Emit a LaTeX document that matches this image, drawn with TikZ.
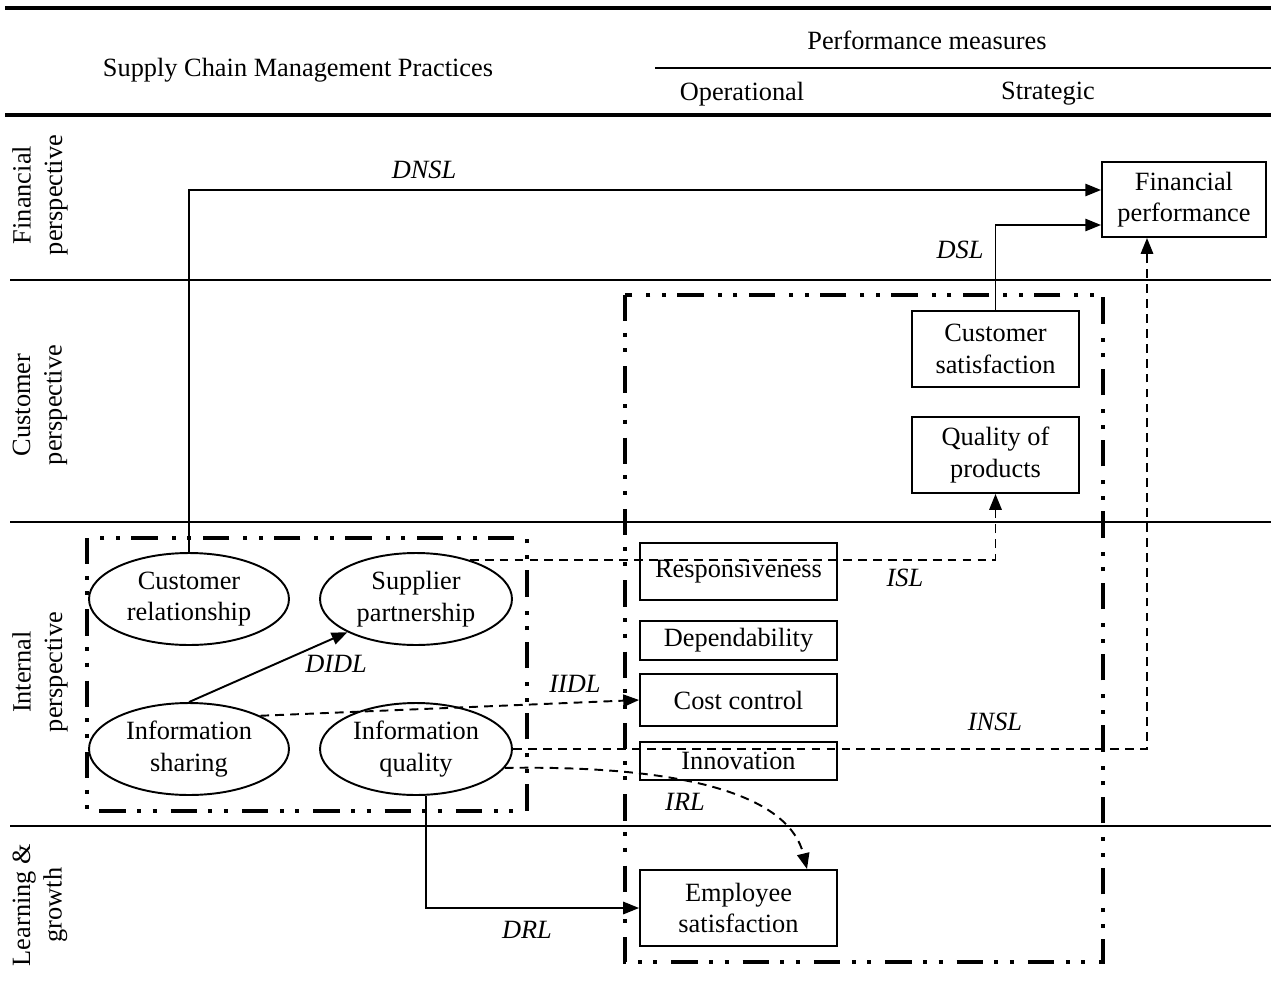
\documentclass[tikz,border=0pt]{standalone}
\usepackage{fontspec}
\setmainfont{Liberation Serif}
\usetikzlibrary{shapes.geometric,arrows.meta,calc}
\begin{document}
\begin{tikzpicture}[x=0.02cm,y=-0.02cm,
  font=\fontsize{15}{18}\selectfont,
  box/.style={draw,line width=1.1pt,align=center,inner sep=0pt,minimum width=3.94cm},
  ell/.style={draw,ellipse,line width=1.1pt,align=center,inner sep=0pt,minimum width=3.84cm,minimum height=1.84cm},
  conn/.style={line width=1.1pt},
  arr/.style={conn,-{Triangle[length=9pt,width=7pt]}},
  dsh/.style={dash pattern=on 5pt off 3.5pt},
  dd/.style={line width=2.3pt,dash pattern=on 15pt off 6.5pt on 2.3pt off 6.5pt on 2.3pt off 8pt},
  rule/.style={line width=1.1pt},
  lbl/.style={font=\fontsize{15}{18}\selectfont\itshape},
  side/.style={rotate=90,align=center},
]
\useasboundingbox (0,0) rectangle (1271,987);

% header rules
\draw[line width=1.8pt] (5,8) -- (1271,8);
\draw[line width=1.8pt] (5,115) -- (1271,115);
\draw[line width=1.4pt] (655,68) -- (1271,68);
% row rules
\draw[rule] (10,280) -- (1271,280);
\draw[rule] (10,522) -- (1271,522);
\draw[rule] (10,826) -- (1271,826);

% header texts
\node (h1) at (298,70) {Supply\ Chain\ Management\ Practices};
\node (h2) at (927,40) {Performance measures};
\node (h3) at (742,94) {Operational};
\node (h4) at (1048,94) {Strategic};

% side labels
\node[side] (s1) at (40,195) {Financial\\perspective};
\node[side] (s2) at (40,405) {Customer\\perspective};
\node[side] (s3) at (40,672) {Internal\\perspective};
\node[side] (s4) at (40,905) {Learning \&\\growth};

% dash-dot-dot frames
\draw[dd] (87,538) rectangle (527,811);
\draw[dd] (625,295) rectangle (1103,962);

% boxes
\node[box,minimum width=3.28cm,minimum height=1.5cm] (fp) at (1184,199.5) {Financial\\performance};
\node[box,minimum width=3.34cm,minimum height=1.52cm] (cs) at (995.5,349) {Customer\\satisfaction};
\node[box,minimum width=3.34cm,minimum height=1.52cm] (qp) at (995.5,455) {Quality of\\products};
\node[box,minimum height=1.14cm] (resp) at (738.5,571.5) {Responsiveness};
\node[box,minimum height=0.78cm] (dep) at (738.5,640.5) {Dependability};
\node[box,minimum height=1.04cm] (cc) at (738.5,700) {Cost control};
\node[box,minimum height=0.76cm] (inn) at (738.5,761) {Innovation};
\node[box,minimum height=1.52cm] (es) at (738.5,908) {Employee\\satisfaction};

% ellipses
\node[ell,minimum width=4cm] (cr) at (189,599) {Customer\\relationship};
\node[ell] (sp) at (416,599) {Supplier\\partnership};
\node[ell,minimum width=4cm] (is) at (189,749) {Information\\sharing};
\node[ell] (iq) at (416,749) {Information\\quality};

% connectors
\draw[arr] (cr.north) |- ($(fp.west)+(0,-9.5)$);
\draw[arr] (cs.north) |- ($(fp.west)+(0,25.5)$);
\draw[arr] (is.north) -- (sp.south west);
\draw[arr,dsh] (sp.36) -| (qp.south);
\draw[arr,dsh] (is.25) -- (cc.west);
\draw[arr,dsh] (iq.east) -| ($(fp.south)+(-37,0)$);
\draw[arr,dsh] (iq.-12) .. controls (700,765) and (790,800) .. ($(es.north)+(68.5,0)$);
\draw[arr] ($(iq.south)+(10,0)$) |- (es.west);

% connector labels
\node[lbl] (lDNSL) at (424,170) {DNSL};
\node[lbl] (lDSL) at (960,250) {DSL};
\node[lbl] (lDIDL) at (336,664) {DIDL};
\node[lbl] (lISL) at (905,578) {ISL};
\node[lbl] (lIIDL) at (575,684) {IIDL};
\node[lbl] (lINSL) at (995,722) {INSL};
\node[lbl] (lIRL) at (685,802) {IRL};
\node[lbl] (lDRL) at (527,930) {DRL};
\end{tikzpicture}
\end{document}
